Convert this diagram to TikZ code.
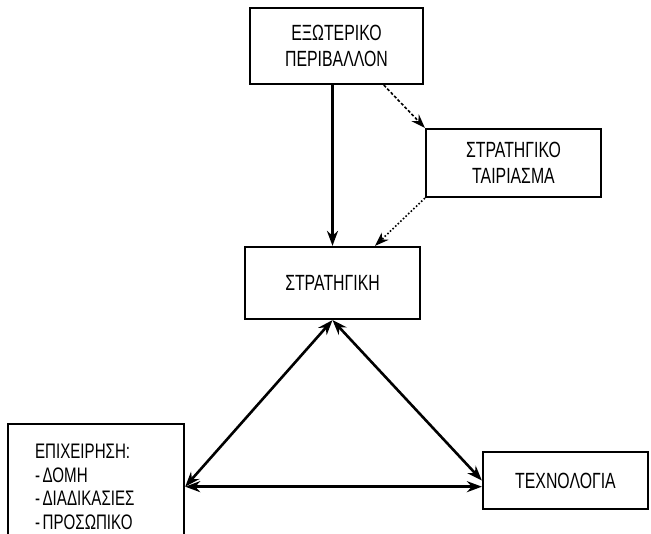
\documentclass[tikz,border=0pt]{standalone}
\usepackage{fontspec}
\setmainfont{Liberation Sans}[FakeStretch=0.72]
\usetikzlibrary{arrows.meta,calc}

\tikzset{
    box/.style={draw, line width=2.2pt, inner sep=0pt, align=center,
        font=\fontsize{22}{26}\selectfont},
    link/.style={line width=2.6pt, -{Stealth[length=15pt,width=11pt]}},
    linkboth/.style={link, {Stealth[length=15pt,width=11pt]}-{Stealth[length=15pt,width=11pt]}},
    hint/.style={line width=1.6pt, -{Stealth[length=14pt,width=10pt]}},
}

\begin{document}
\begin{tikzpicture}[x=1pt, y=-1pt]
\useasboundingbox (0,0) rectangle (651,534);

% ============================
\node[box, minimum width=173pt, minimum height=76pt] (env) at (336.5,46)
    {ΕΞΩΤΕΡΙΚΟ\\ΠΕΡΙΒΑΛΛΟΝ};

\node[box, minimum width=175pt, minimum height=68pt] (fit) at (513.5,163)
    {ΣΤΡΑΤΗΓΙΚΟ\\ΤΑΙΡΙΑΣΜΑ};

\node[box, minimum width=175pt, minimum height=72pt] (strat) at (332.5,283)
    {ΣΤΡΑΤΗΓΙΚΗ};

% ============================
\node[box, anchor=north west, align=left, text width=122pt,
      inner xsep=27pt, inner ysep=20pt,
      font=\fontsize{21}{23.5}\selectfont] (firm) at (7,423)
    {ΕΠΙΧΕΙΡΗΣΗ:\\-\hspace{.12em}ΔΟΜΗ\\-\hspace{.12em}ΔΙΑΔΙΚΑΣΙΕΣ\\-\hspace{.12em}ΠΡΟΣΩΠΙΚΟ};

\node[box, minimum width=165pt, minimum height=57pt] (tech) at (565.5,480.5)
    {ΤΕΧΝΟΛΟΓΙΑ};

% ============================
\draw[link] (env.south -| strat.north) -- (strat.north);
\draw[hint, dash pattern=on 3pt off 2pt]
    ($(env.south east)!0.23!(env.south west)$) -- (fit.north west);
\draw[hint, dotted]
    (fit.south west) -- ($(strat.north east)!0.26!(strat.north west)$);

% ============================
\draw[linkboth] (strat.south) -- (firm.east);
\draw[linkboth] (strat.south) -- (tech.west);
\draw[linkboth] (firm.east) -- (firm.east -| tech.west);

\end{tikzpicture}
\end{document}
